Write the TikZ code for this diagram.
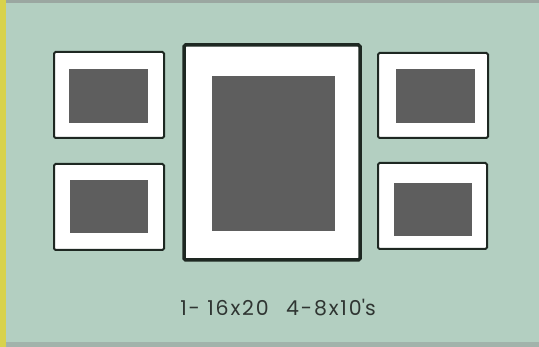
\documentclass[tikz,border=0pt]{standalone}
\usepackage{fontspec}
\setmainfont{Poppins}
\usepackage{xcolor}
\definecolor{wallGreen}{HTML}{B3CFC1}
\definecolor{edgeGray}{HTML}{9BA7A1}
\definecolor{stripYellow}{HTML}{D8D24C}
\definecolor{frameDark}{HTML}{1E2822}
\definecolor{photoGray}{HTML}{5E5E5E}
\definecolor{labelGray}{HTML}{2F3532}
\usepackage{tikz}

\tikzset{
  frame/.style={draw=frameDark, fill=white, line width=2pt, rounded corners=1.5pt},
  bigframe/.style={frame, line width=3.5pt},
  photo/.style={fill=photoGray}
}

\begin{document}
\begin{tikzpicture}[x=1pt, y=-1pt]
  % wall
  \fill[wallGreen] (0,0) rectangle (539,347);
  \fill[edgeGray] (0,0) rectangle (539,3);
  \fill[edgeGray!70!wallGreen] (0,342) rectangle (539,347);
  \fill[stripYellow] (0,0) rectangle (6,347);
  \useasboundingbox (0,0) rectangle (539,347);
  % left column
  \draw[frame] (54,52) rectangle (164,138);
  \fill[photo] (69,69) rectangle (148,123);
  \draw[frame] (54,164) rectangle (164,250);
  \fill[photo] (70,180) rectangle (148,233);
  % centre 16x20
  \draw[bigframe] (184,45) rectangle (360,260);
  \fill[photo] (212,76) rectangle (335,231);
  % right column
  \draw[frame] (378,53) rectangle (488,138);
  \fill[photo] (396,69) rectangle (475,123);
  \draw[frame] (378,163) rectangle (487,249);
  \fill[photo] (394,183) rectangle (472,236);
  % caption
  \node[labelGray, font=\fontsize{20.5}{24}\selectfont\addfontfeature{LetterSpace=9}] (caption) at (278,308)
    {1- 16x20\hspace{0.85em}4-8x10\textquotesingle s};
\end{tikzpicture}
\end{document}
